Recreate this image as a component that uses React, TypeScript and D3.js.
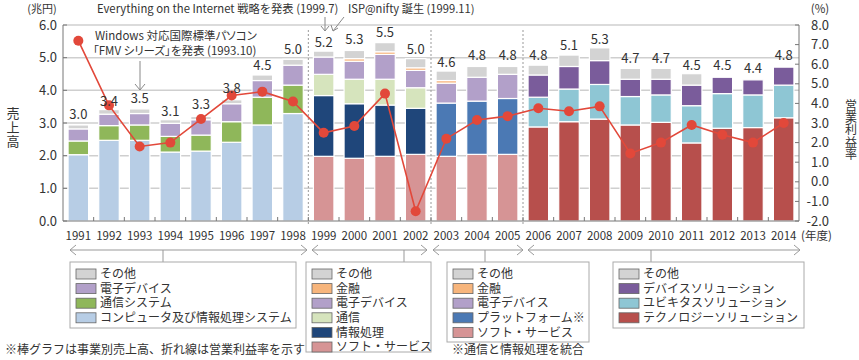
import React from 'react';
import * as d3 from 'd3';

const years = ['1991','1992','1993','1994','1995','1996','1997','1998','1999','2000','2001','2002','2003','2004','2005','2006','2007','2008','2009','2010','2011','2012','2013','2014'];
const totalLabels = ['3.0','3.4','3.5','3.1','3.3','3.8','4.5','5.0','5.2','5.3','5.5','5.0','4.6','4.8','4.8','4.8','5.1','5.3','4.7','4.7','4.5','4.5','4.4','4.8'];
const marginRate = [7.2, 3.9, 1.8, 2.0, 3.2, 4.4, 4.6, 4.1, 2.5, 2.85, 4.5, -1.5, 2.2, 3.15, 3.35, 3.75, 3.6, 3.85, 1.45, 2.0, 2.9, 2.4, 2.0, 3.0];

// Era 1: 1991-1998
const e1Years = ['1991','1992','1993','1994','1995','1996','1997','1998'];
const e1Computer = [2.03, 2.47, 2.47, 2.11, 2.14, 2.41, 2.94, 3.29];
const e1CommSys = [0.42, 0.45, 0.47, 0.48, 0.49, 0.63, 0.85, 0.87];
const e1Device = [0.37, 0.35, 0.35, 0.40, 0.47, 0.55, 0.51, 0.61];
const e1Other = [0.12, 0.14, 0.14, 0.11, 0.10, 0.12, 0.17, 0.18];
// Era 2: 1999-2002
const e2Years = ['1999','2000','2001','2002'];
const e2Soft = [1.98, 1.92, 1.98, 2.04];
const e2Info = [1.86, 1.67, 1.57, 1.41];
const e2Comm = [0.65, 0.75, 0.79, 0.63];
const e2Device = [0.53, 0.55, 0.76, 0.53];
const e2Finance = [0, 0.08, 0.08, 0.08];
const e2Other = [0.18, 0.25, 0.28, 0.28];
// Era 3: 2003-2005
const e3Years = ['2003','2004','2005'];
const e3Soft = [1.98, 2.04, 2.04];
const e3Platform = [1.63, 1.63, 1.71];
const e3Device = [0.61, 0.73, 0.74];
const e3Finance = [0.08, 0, 0];
const e3Other = [0.29, 0.33, 0.24];
// Era 4: 2006-2014
const e4Years = ['2006','2007','2008','2009','2010','2011','2012','2013','2014'];
const e4Tech = [2.88, 3.04, 3.12, 2.94, 3.02, 2.39, 2.84, 2.86, 3.16];
const e4Ubiq = [0.91, 1.00, 1.06, 0.87, 0.84, 1.14, 1.06, 1.00, 1.00];
const e4Device = [0.68, 0.69, 0.73, 0.53, 0.48, 0.63, 0.50, 0.46, 0.55];
const e4Other = [0.30, 0.35, 0.39, 0.33, 0.33, 0.35, 0, 0, 0];

const leftTicks = [0, 1, 2, 3, 4, 5, 6];
const rightTicks = [-2, -1, 0, 1, 2, 3, 4, 5, 6, 7, 8];

const C = {
  other: '#d3d3d3',
  device: '#b2a0c9',
  commSys: '#8fb75a',
  computer: '#b7cde5',
  finance: '#f7b57c',
  comm: '#d6e4bd',
  info: '#1f467a',
  soft: '#d69495',
  platform: '#4b79b4',
  devSol: '#7a5c9b',
  ubiq: '#8ec6d4',
  tech: '#b74f4c',
};

const eras = [
  { years: e1Years, series: [[e1Computer, C.computer], [e1CommSys, C.commSys], [e1Device, C.device], [e1Other, C.other]] },
  { years: e2Years, series: [[e2Soft, C.soft], [e2Info, C.info], [e2Comm, C.comm], [e2Device, C.device], [e2Finance, C.finance], [e2Other, C.other]] },
  { years: e3Years, series: [[e3Soft, C.soft], [e3Platform, C.platform], [e3Device, C.device], [e3Finance, C.finance], [e3Other, C.other]] },
  { years: e4Years, series: [[e4Tech, C.tech], [e4Ubiq, C.ubiq], [e4Device, C.devSol], [e4Other, C.other]] },
];

const legends = [
  { x: 70, w: 226, h: 66, items: [['その他', C.other], ['電子デバイス', C.device], ['通信システム', C.commSys], ['コンピュータ及び情報処理システム', C.computer]] },
  { x: 306, w: 125, h: 90, items: [['その他', C.other], ['金融', C.finance], ['電子デバイス', C.device], ['通信', C.comm], ['情報処理', C.info], ['ソフト・サービス', C.soft]] },
  { x: 447, w: 142, h: 80, items: [['その他', C.other], ['金融', C.finance], ['電子デバイス', C.device], ['プラットフォーム※', C.platform], ['ソフト・サービス', C.soft]] },
  { x: 613, w: 191, h: 66, items: [['その他', C.other], ['デバイスソリューション', C.devSol], ['ユビキタスソリューション', C.ubiq], ['テクノロジーソリューション', C.tech]] },
];

const FONT = '"Noto Sans CJK JP", "Noto Sans", sans-serif';
const TXT = '#333';

export default function App() {
  const W = 859, H = 360;
  const x = d3.scaleBand<string>().domain(years).range([63, 799]).paddingInner(0.33).paddingOuter(0.165);
  const xs = d3.scaleBand<string>().domain(years).range([63, 799]);
  const y = d3.scaleLinear().domain([0, 6]).range([221, 25]);
  const yR = d3.scaleLinear().domain([-2, 8]).range([221, 25]);
  const step = xs.step();
  const bw = x.bandwidth();

  const segs: { key: string; x: number; y0: number; y1: number; c: string }[] = [];
  eras.forEach((era, ei) => {
    era.years.forEach((yr, i) => {
      let acc = 0;
      era.series.forEach(([vals, c], si) => {
        const v = (vals as number[])[i];
        if (v > 0) {
          segs.push({ key: `${ei}-${yr}-${si}`, x: x(yr)!, y0: y(acc), y1: y(acc + v), c: c as string });
        }
        acc += v;
      });
    });
  });

  const line = d3.line<number>().x((_, i) => xs(years[i])! + step / 2).y(d => yR(d));

  const separators = ['1999', '2003', '2006'].map(yr => xs(yr)!);
  const groups = [
    { x0: 70, x1: 307, cx: 163 },
    { x0: 312, x1: 427, cx: 404 },
    { x0: 433, x1: 523, cx: 485 },
    { x0: 528, x1: 800, cx: 651 },
  ];

  const arrowGray = '#999';
  const annStyle = { fontFeatureSettings: '"palt"' } as React.CSSProperties;

  return (
    <svg width={W} height={H} style={{ position: 'absolute', left: 0, top: 0, fontFamily: FONT }}>
      <rect width={W} height={H} fill="#fff" />
      {/* gridlines */}
      {leftTicks.filter(t => t > 0 && t < 6).map(t => (
        <line key={t} x1={63} x2={799} y1={y(t)} y2={y(t)} stroke="#cfcfcf" strokeWidth={1.5} />
      ))}
      <line x1={63} x2={799} y1={y(6)} y2={y(6)} stroke="#cfcfcf" strokeWidth={1.5} />
      {/* bars */}
      {segs.map(s => (
        <rect key={s.key} x={s.x} y={s.y1} width={bw} height={Math.max(0, s.y0 - s.y1)} fill={s.c} stroke="#fff" strokeWidth={1.2} />
      ))}
      {/* separators */}
      {separators.map((sx, i) => (
        <line key={i} x1={sx} x2={sx} y1={30} y2={226} stroke="#999" strokeWidth={1} strokeDasharray="2,2" />
      ))}
      {/* axes */}
      <line x1={63} x2={63} y1={25} y2={221} stroke="#777" strokeWidth={1} />
      <line x1={799} x2={799} y1={25} y2={221} stroke="#777" strokeWidth={1} />
      <line x1={63} x2={799} y1={221} y2={221} stroke="#777" strokeWidth={1} />
      {leftTicks.map(t => (
        <g key={t}>
          <line x1={63} x2={67} y1={y(t)} y2={y(t)} stroke="#777" />
          <text x={57} y={y(t)} dy="0.35em" textAnchor="end" fontSize={13} fill={TXT}>{t.toFixed(1)}</text>
        </g>
      ))}
      {rightTicks.map(t => (
        <g key={t}>
          <line x1={795} x2={799} y1={yR(t)} y2={yR(t)} stroke="#777" />
          <text x={829} y={yR(t)} dy="0.35em" textAnchor="end" fontSize={13} fill={TXT}>{t.toFixed(1)}</text>
        </g>
      ))}
      {years.map((yr, i) => (
        <g key={yr}>
          {i > 0 && <line x1={xs(yr)!} x2={xs(yr)!} y1={221} y2={217} stroke="#777" />}
          <text x={xs(yr)! + step / 2} y={236} dy="0.35em" textAnchor="middle" fontSize={11.5} fill={TXT}>{yr}</text>
        </g>
      ))}
      <text x={801} y={236} dy="0.35em" fontSize={11.5} fill={TXT}>(年度)</text>
      {/* margin line */}
      <path d={line(marginRate)!} fill="none" stroke="#e2483a" strokeWidth={1.6} />
      {marginRate.map((m, i) => (
        <circle key={i} cx={xs(years[i])! + step / 2} cy={yR(m)} r={5} fill="#e2483a" />
      ))}
      {/* total labels */}
      {years.map((yr, i) => (
        <text key={yr} x={xs(yr)! + step / 2} y={y(parseFloat(totalLabels[i])) - 4} textAnchor="middle" fontSize={13} fill={TXT}>{totalLabels[i]}</text>
      ))}
      {/* axis titles */}
      <text x={42} y={9} dy="0.35em" textAnchor="middle" fontSize={11} fill={TXT}>(兆円)</text>
      <text x={820} y={9} dy="0.35em" textAnchor="middle" fontSize={11.5} fill={TXT}>(%)</text>
      <text x={13} y={128} textAnchor="middle" fontSize={13} fill={TXT} style={{ writingMode: 'vertical-rl', letterSpacing: '1px' } as React.CSSProperties}>売上高</text>
      <text x={851} y={130} textAnchor="middle" fontSize={12} fill={TXT} style={{ writingMode: 'vertical-rl', letterSpacing: '0.3px' } as React.CSSProperties}>営業利益率</text>
      {/* annotations */}
      <text x={97} y={9} dy="0.35em" fontSize={11.3} fill={TXT}>Everything on the Internet 戦略を発表 (1999.7)</text>
      <text x={348} y={9} dy="0.35em" fontSize={11.2} fill={TXT}>ISP@nifty 誕生 (1999.11)</text>
      <g stroke="#888" strokeWidth={1} fill="none">
        <line x1={325} y1={17} x2={325} y2={31} />
        <polyline points="321,26 325,31 329,26" />
        <line x1={344} y1={17} x2={333} y2={31} />
        <polyline points="331,25 333,31 338,28" />
        <line x1={140} y1={61} x2={140} y2={90} />
        <polyline points="135,84 140,90 145,84" />
      </g>
      <text x={95} y={36} dy="0.35em" fontSize={11.5} fill={TXT} style={annStyle}>Windows 対応国際標準パソコン</text>
      <text x={93} y={51} dy="0.35em" fontSize={11.5} fill={TXT} style={annStyle}>「FMV シリーズ」を発表 (1993.10)</text>
      {/* group arrows */}
      {groups.map((g, i) => (
        <g key={i} stroke={arrowGray} strokeWidth={1} fill="none">
          <line x1={g.x0} x2={g.x1} y1={250} y2={250} />
          <polyline points={`${g.x0 + 6},${245} ${g.x0},250 ${g.x0 + 6},${255}`} />
          <polyline points={`${g.x1 - 6},${245} ${g.x1},250 ${g.x1 - 6},${255}`} />
          <line x1={g.cx} x2={g.cx} y1={250} y2={262} />
        </g>
      ))}
      {/* legends */}
      {legends.map((lg, li) => (
        <g key={li}>
          <rect x={lg.x} y={262} width={lg.w} height={lg.h} fill="#fff" stroke="#aaa" strokeWidth={1} />
          {lg.items.map(([label, c], i) => (
            <g key={i}>
              <rect x={lg.x + 6} y={269 + i * 14.6} width={20} height={10} fill={c} stroke="#666" strokeWidth={0.8} />
              <text x={lg.x + 30} y={274 + i * 14.6} dy="0.35em" fontSize={12} fill={TXT}>{label}</text>
            </g>
          ))}
        </g>
      ))}
      <text x={5} y={350} dy="0.35em" fontSize={12} fill={TXT}>※棒グラフは事業別売上高、折れ線は営業利益率を示す</text>
      <text x={452} y={350} dy="0.35em" fontSize={12} fill={TXT}>※通信と情報処理を統合</text>
    </svg>
  );
}
